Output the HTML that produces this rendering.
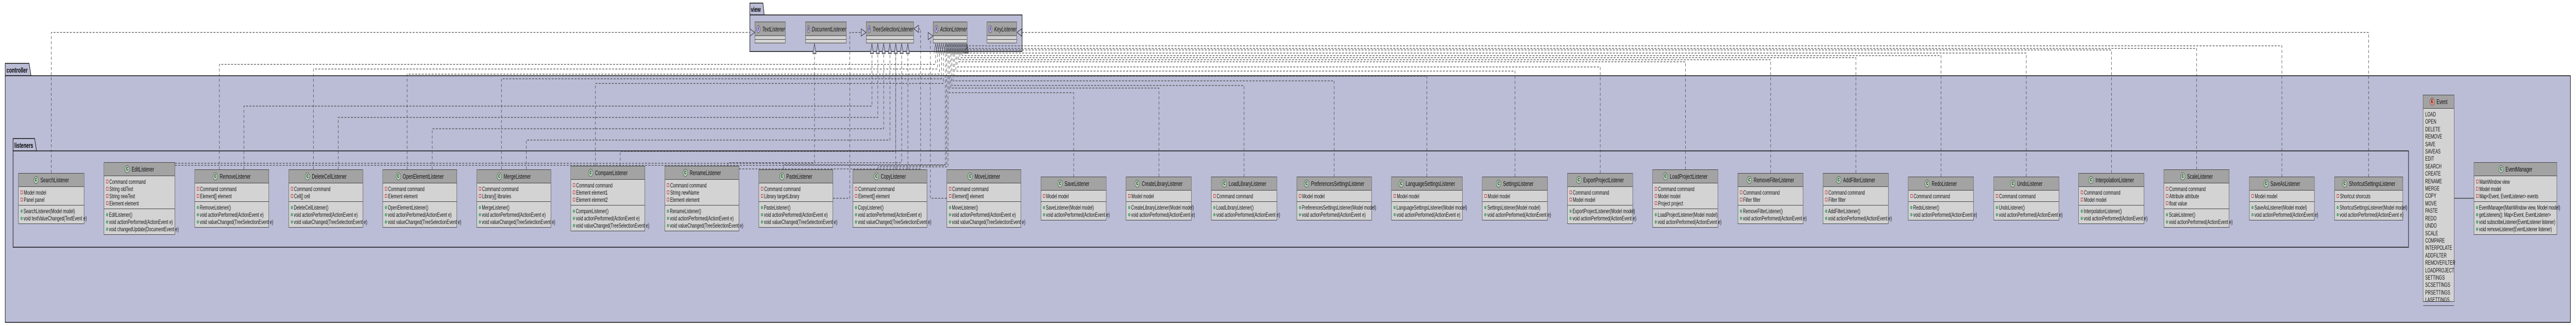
<!DOCTYPE html>
<html style="overflow:hidden;margin:0;padding:0;"><head><meta charset="utf-8">
<style>
html,body{margin:0;padding:0;background:#fff;}
body{width:7891px;height:633px;position:relative;overflow:hidden;font-family:"Liberation Sans",sans-serif;transform-origin:0 0;}
svg.bg{position:absolute;left:0;top:0;}
.c{position:absolute;background:#d3d3d3;border:1.5px solid #444;box-sizing:border-box;font-size:12px;color:#111;white-space:nowrap;}
.h{height:26px;background:#a3a3a3;border-bottom:1.5px solid #444;display:flex;align-items:center;justify-content:center;font-size:13px;box-sizing:border-box;}
.i{display:inline-block;width:15px;height:15px;border-radius:50%;border:1px solid #555;background:#add1b2;font-size:9px;font-weight:bold;text-align:center;margin-right:6px;box-sizing:border-box;line-height:13px;}
.ii{background:#b4a7e5;}
.ie{background:#eb937f;}
.s{padding:4px 0 3px 6px;line-height:14px;border-bottom:1.5px solid #444;}
.s:last-child{border-bottom:none;}
.f::before{content:"";display:inline-block;width:5px;height:5px;border:1px solid #c82930;margin-right:3px;vertical-align:1px;}
.m::before{content:"";display:inline-block;width:6px;height:6px;border-radius:50%;background:#84be84;border:1px solid #038048;margin-right:3px;vertical-align:1px;box-sizing:border-box;}
.it .h{font-style:italic;justify-content:flex-start;padding-left:4px;height:27px;}
.e{height:6px;border-bottom:1.5px solid #444;}
.e:last-child{border-bottom:none;}
.en .s div{line-height:14.4px;}
</style></head><body>
<svg class="bg" width="7891" height="633" xmlns="http://www.w3.org/2000/svg">
<g stroke="#111" stroke-width="1.5" fill="#bbbdd6">
<polygon points="16,147 16,123 89,123 95,147"/>
<rect x="16" y="147" width="7858" height="479"/>
<polygon points="40,293 40,269 106,269 112,293"/>
<rect x="40" y="293" width="7338" height="187"/>
<polygon points="2297,29 2297,6 2337,6 2341,29"/>
<rect x="2297" y="29" width="834" height="71"/>
</g>
<g font-family="Liberation Sans" font-weight="bold" font-size="14" fill="#000">
<text x="20" y="141">controller</text>
<text x="44" y="287">listeners</text>
<text x="2300" y="23">view</text>
</g>
<g fill="none" stroke="#444" stroke-width="1.2" stroke-dasharray="6,4">
<path d="M157,336 V63 H2297"/>
<path d="M7256,343 V63 H3130"/>
<path d="M536,317 H2495 V104"/>
<path d="M2552,385 H2603 V63 H2638"/>
<path d="M2264,328 H2820 V56 H2814"/>
<path d="M2900,385 H2850 V70 H2843"/>
<path d="M747,329 V206 H2671 V104"/>
<path d="M1036,329 V228 H2689 V104"/>
<path d="M1324,329 V250 H2707 V104"/>
<path d="M1612,329 V272 H2726 V104"/>
<path d="M1900,322 V294 H2744 V104"/>
<path d="M2744,329 V104"/>
<path d="M2230,322 V316 H2762 V104"/>
<path d="M2781,329 V104"/>
<path d="M672,329 V125 H2866 V104"/>
<path d="M960,329 V134 H2872 V104"/>
<path d="M1247,329 V144 H2878 V104"/>
<path d="M1536,329 V153 H2884 V104"/>
<path d="M1824,322 V162 H2890 V104"/>
<path d="M536,321 H2896 V104"/>
<path d="M2400,329 V320 H2900 V104"/>
<path d="M2690,329 V324 H2904 V104"/>
<path d="M3289,343 V180 H2908 V104"/>
<path d="M3550,343 V171 H2912 V104"/>
<path d="M3811,343 V166 H2916 V104"/>
<path d="M4087,343 V157 H2920 V104"/>
<path d="M4371,343 V148 H2924 V104"/>
<path d="M4641,343 V138 H2928 V104"/>
<path d="M4902,336 V130 H2932 V104"/>
<path d="M5163,329 V120 H2936 V104"/>
<path d="M5424,336 V116 H2940 V104"/>
<path d="M5685,336 V112 H2944 V104"/>
<path d="M5946,343 V108 H2948 V104"/>
<path d="M6207,343 V103 H2952"/>
<path d="M6468,336 V97 H2956 V104"/>
<path d="M6729,329 V94 H2960 V104"/>
<path d="M6990,343 V89 H2963 V104"/>
</g>
<g fill="#bbbdd6" stroke="#333" stroke-width="1.2">
<polygon points="2297,56 2312,63 2297,70"/>
<polygon points="3130,56 3115,63 3130,70"/>
<polygon points="2638,56 2653,63 2638,70"/>
<polygon points="2814,49 2799,56 2814,63"/>
<polygon points="2843,63 2858,70 2843,77"/>
<polygon points="2490,104 2495,85 2500,104"/>
<polygon points="2666,104 2671,85 2676,104"/>
<polygon points="2684,104 2689,85 2694,104"/>
<polygon points="2702,104 2707,85 2712,104"/>
<polygon points="2721,104 2726,85 2731,104"/>
<polygon points="2739,104 2744,85 2749,104"/>
<polygon points="2757,104 2762,85 2767,104"/>
<polygon points="2776,104 2781,85 2786,104"/>
</g>
<g fill="none" stroke="#333" stroke-width="1">
<path d="M2861,104 L2866,85 L2871,104 M2867,104 L2872,85 L2877,104 M2873,104 L2878,85 L2883,104 M2879,104 L2884,85 L2889,104 M2885,104 L2890,85 L2895,104 M2891,104 L2896,85 L2901,104 M2895,104 L2900,85 L2905,104 M2899,104 L2904,85 L2909,104 M2903,104 L2908,85 L2913,104 M2907,104 L2912,85 L2917,104 M2911,104 L2916,85 L2921,104 M2915,104 L2920,85 L2925,104 M2919,104 L2924,85 L2929,104 M2923,104 L2928,85 L2933,104 M2927,104 L2932,85 L2937,104 M2931,104 L2936,85 L2941,104 M2935,104 L2940,85 L2945,104 M2939,104 L2944,85 L2949,104 M2943,104 L2948,85 L2953,104 M2947,104 L2952,85 L2957,104 M2951,104 L2956,85 L2961,104 M2955,104 L2960,85 L2965,104 M2958,104 L2963,85 L2967,104"/>
</g>
<line x1="7518" y1="385" x2="7578" y2="385" stroke="#444" stroke-width="1.5"/>
</svg>

<div class="c it" style="left:2312px;top:42px;width:94px;height:42px"><div class="h"><span class="i ii">I</span>TextListener</div><div class="e"></div><div class="e"></div></div>
<div class="c it" style="left:2467px;top:42px;width:126px;height:42px"><div class="h"><span class="i ii">I</span>DocumentListener</div><div class="e"></div><div class="e"></div></div>
<div class="c it" style="left:2653px;top:42px;width:146px;height:42px"><div class="h"><span class="i ii">I</span>TreeSelectionListener</div><div class="e"></div><div class="e"></div></div>
<div class="c it" style="left:2858px;top:42px;width:105px;height:42px"><div class="h"><span class="i ii">I</span>ActionListener</div><div class="e"></div><div class="e"></div></div>
<div class="c it" style="left:3023px;top:42px;width:92px;height:42px"><div class="h"><span class="i ii">I</span>KeyListener</div><div class="e"></div><div class="e"></div></div>

<div class="c" style="left:56px;top:336px;width:202px"><div class="h"><span class="i">C</span>SearchListener</div><div class="s"><div class="f">Model model</div><div class="f">Panel panel</div></div><div class="s"><div class="m">SearchListener(Model model)</div><div class="m">void textValueChanged(TextEvent e)</div></div></div>
<div class="c" style="left:318px;top:315px;width:218px"><div class="h"><span class="i">C</span>EditListener</div><div class="s"><div class="f">Command command</div><div class="f">String oldText</div><div class="f">String newText</div><div class="f">Element element</div></div><div class="s"><div class="m">EditListener()</div><div class="m">void actionPerformed(ActionEvent e)</div><div class="m">void changedUpdate(DocumentEvent e)</div></div></div>
<div class="c" style="left:596px;top:329px;width:228px"><div class="h"><span class="i">C</span>RemoveListener</div><div class="s"><div class="f">Command command</div><div class="f">Element[] element</div></div><div class="s"><div class="m">RemoveListener()</div><div class="m">void actionPerformed(ActionEvent e)</div><div class="m">void valueChanged(TreeSelectionEvent e)</div></div></div>
<div class="c" style="left:884px;top:329px;width:228px"><div class="h"><span class="i">C</span>DeleteCellListener</div><div class="s"><div class="f">Command command</div><div class="f">Cell[] cell</div></div><div class="s"><div class="m">DeleteCellListener()</div><div class="m">void actionPerformed(ActionEvent e)</div><div class="m">void valueChanged(TreeSelectionEvent e)</div></div></div>
<div class="c" style="left:1172px;top:329px;width:228px"><div class="h"><span class="i">C</span>OpenElementListener</div><div class="s"><div class="f">Command command</div><div class="f">Element element</div></div><div class="s"><div class="m">OpenElementListener()</div><div class="m">void actionPerformed(ActionEvent e)</div><div class="m">void valueChanged(TreeSelectionEvent e)</div></div></div>
<div class="c" style="left:1460px;top:329px;width:228px"><div class="h"><span class="i">C</span>MergeListener</div><div class="s"><div class="f">Command command</div><div class="f">Library[] libraries</div></div><div class="s"><div class="m">MergeListener()</div><div class="m">void actionPerformed(ActionEvent e)</div><div class="m">void valueChanged(TreeSelectionEvent e)</div></div></div>
<div class="c" style="left:1748px;top:322px;width:228px"><div class="h"><span class="i">C</span>CompareListener</div><div class="s"><div class="f">Command command</div><div class="f">Element element1</div><div class="f">Element element2</div></div><div class="s"><div class="m">CompareListener()</div><div class="m">void actionPerformed(ActionEvent e)</div><div class="m">void valueChanged(TreeSelectionEvent e)</div></div></div>
<div class="c" style="left:2036px;top:322px;width:228px"><div class="h"><span class="i">C</span>RenameListener</div><div class="s"><div class="f">Command command</div><div class="f">String newName</div><div class="f">Element element</div></div><div class="s"><div class="m">RenameListener()</div><div class="m">void actionPerformed(ActionEvent e)</div><div class="m">void valueChanged(TreeSelectionEvent e)</div></div></div>
<div class="c" style="left:2324px;top:329px;width:228px"><div class="h"><span class="i">C</span>PasteListener</div><div class="s"><div class="f">Command command</div><div class="f">Library targetLibrary</div></div><div class="s"><div class="m">PasteListener()</div><div class="m">void actionPerformed(ActionEvent e)</div><div class="m">void valueChanged(TreeSelectionEvent e)</div></div></div>
<div class="c" style="left:2612px;top:329px;width:228px"><div class="h"><span class="i">C</span>CopyListener</div><div class="s"><div class="f">Command command</div><div class="f">Element[] element</div></div><div class="s"><div class="m">CopyListener()</div><div class="m">void actionPerformed(ActionEvent e)</div><div class="m">void valueChanged(TreeSelectionEvent e)</div></div></div>
<div class="c" style="left:2900px;top:329px;width:228px"><div class="h"><span class="i">C</span>MoveListener</div><div class="s"><div class="f">Command command</div><div class="f">Element[] element</div></div><div class="s"><div class="m">MoveListener()</div><div class="m">void actionPerformed(ActionEvent e)</div><div class="m">void valueChanged(TreeSelectionEvent e)</div></div></div>
<div class="c" style="left:3188px;top:343px;width:201px"><div class="h"><span class="i">C</span>SaveListener</div><div class="s"><div class="f">Model model</div></div><div class="s"><div class="m">SaveListener(Model model)</div><div class="m">void actionPerformed(ActionEvent e)</div></div></div>
<div class="c" style="left:3449px;top:343px;width:201px"><div class="h"><span class="i">C</span>CreateLibraryListener</div><div class="s"><div class="f">Model model</div></div><div class="s"><div class="m">CreateLibraryListener(Model model)</div><div class="m">void actionPerformed(ActionEvent e)</div></div></div>
<div class="c" style="left:3710px;top:343px;width:202px"><div class="h"><span class="i">C</span>LoadLibraryListener</div><div class="s"><div class="f">Command command</div></div><div class="s"><div class="m">LoadLibraryListener()</div><div class="m">void actionPerformed(ActionEvent e)</div></div></div>
<div class="c" style="left:3972px;top:343px;width:230px"><div class="h"><span class="i">C</span>PreferencesSettingsListener</div><div class="s"><div class="f">Model model</div></div><div class="s"><div class="m">PreferencesSettingsListener(Model model)</div><div class="m">void actionPerformed(ActionEvent e)</div></div></div>
<div class="c" style="left:4262px;top:343px;width:218px"><div class="h"><span class="i">C</span>LanguageSettingsListener</div><div class="s"><div class="f">Model model</div></div><div class="s"><div class="m">LanguageSettingsListener(Model model)</div><div class="m">void actionPerformed(ActionEvent e)</div></div></div>
<div class="c" style="left:4540px;top:343px;width:201px"><div class="h"><span class="i">C</span>SettingsListener</div><div class="s"><div class="f">Model model</div></div><div class="s"><div class="m">SettingsListener(Model model)</div><div class="m">void actionPerformed(ActionEvent e)</div></div></div>
<div class="c" style="left:4801px;top:336px;width:201px"><div class="h"><span class="i">C</span>ExportProjectListener</div><div class="s"><div class="f">Command command</div><div class="f">Model model</div></div><div class="s"><div class="m">ExportProjectListener(Model model)</div><div class="m">void actionPerformed(ActionEvent e)</div></div></div>
<div class="c" style="left:5062px;top:329px;width:201px"><div class="h"><span class="i">C</span>LoadProjectListener</div><div class="s"><div class="f">Command command</div><div class="f">Model model</div><div class="f">Project project</div></div><div class="s"><div class="m">LoadProjectListener(Model model)</div><div class="m">void actionPerformed(ActionEvent e)</div></div></div>
<div class="c" style="left:5323px;top:336px;width:201px"><div class="h"><span class="i">C</span>RemoveFilterListener</div><div class="s"><div class="f">Command command</div><div class="f">Filter filter</div></div><div class="s"><div class="m">RemoveFilterListener()</div><div class="m">void actionPerformed(ActionEvent e)</div></div></div>
<div class="c" style="left:5584px;top:336px;width:201px"><div class="h"><span class="i">C</span>AddFilterListener</div><div class="s"><div class="f">Command command</div><div class="f">Filter filter</div></div><div class="s"><div class="m">AddFilterListener()</div><div class="m">void actionPerformed(ActionEvent e)</div></div></div>
<div class="c" style="left:5845px;top:343px;width:201px"><div class="h"><span class="i">C</span>RedoListener</div><div class="s"><div class="f">Command command</div></div><div class="s"><div class="m">RedoListener()</div><div class="m">void actionPerformed(ActionEvent e)</div></div></div>
<div class="c" style="left:6107px;top:343px;width:201px"><div class="h"><span class="i">C</span>UndoListener</div><div class="s"><div class="f">Command command</div></div><div class="s"><div class="m">UndoListener()</div><div class="m">void actionPerformed(ActionEvent e)</div></div></div>
<div class="c" style="left:6367px;top:336px;width:201px"><div class="h"><span class="i">C</span>InterpolationListener</div><div class="s"><div class="f">Command command</div><div class="f">Model model</div></div><div class="s"><div class="m">InterpolationListener()</div><div class="m">void actionPerformed(ActionEvent e)</div></div></div>
<div class="c" style="left:6628px;top:329px;width:201px"><div class="h"><span class="i">C</span>ScaleListener</div><div class="s"><div class="f">Command command</div><div class="f">Attribute attribute</div><div class="f">float value</div></div><div class="s"><div class="m">ScaleListener()</div><div class="m">void actionPerformed(ActionEvent e)</div></div></div>
<div class="c" style="left:6890px;top:343px;width:200px"><div class="h"><span class="i">C</span>SaveAsListener</div><div class="s"><div class="f">Model model</div></div><div class="s"><div class="m">SaveAsListener(Model model)</div><div class="m">void actionPerformed(ActionEvent e)</div></div></div>
<div class="c" style="left:7151px;top:343px;width:210px"><div class="h"><span class="i">C</span>ShortcutSettingsListener</div><div class="s"><div class="f">Shortcut shorcuts</div></div><div class="s"><div class="m">ShortcutSettingsListener(Model model)</div><div class="m">void actionPerformed(ActionEvent e)</div></div></div>

<div class="c en" style="left:7422px;top:184px;width:96px;height:402px"><div class="h"><span class="i ie">E</span>Event</div><div class="s"><div>LOAD</div><div>OPEN</div><div>DELETE</div><div>REMOVE</div><div>SAVE</div><div>SAVEAS</div><div>EDIT</div><div>SEARCH</div><div>CREATE</div><div>RENAME</div><div>MERGE</div><div>COPY</div><div>MOVE</div><div>PASTE</div><div>REDO</div><div>UNDO</div><div>SCALE</div><div>COMPARE</div><div>INTERPOLATE</div><div>ADDFILTER</div><div>REMOVEFILTER</div><div>LOADPROJECT</div><div>SETTINGS</div><div>SCSETTINGS</div><div>PRSETTINGS</div><div>LASETTINGS</div></div><div class="e"></div></div>

<div class="c" style="left:7578px;top:315px;width:255px;letter-spacing:-0.2px"><div class="h"><span class="i">C</span>EventManager</div><div class="s"><div class="f">MainWindow view</div><div class="f">Model model</div><div class="f">Map&lt;Event, EventListener&gt; events</div></div><div class="s"><div class="m">EventManager(MainWindow view, Model model)</div><div class="m">getListeners(): Map&lt;Event, EventListener&gt;</div><div class="m">void subscribeListener(EventListener listener)</div><div class="m">void removeListener(EventListener listener)</div></div></div>
<script>
(function(){
  var w = window.innerWidth || document.documentElement.clientWidth;
  var s = w / 7891;
  if (s > 0 && s < 0.999) {
    document.body.style.transform = 'scaleX(' + s + ')';
  }
})();
</script>
</body></html>
